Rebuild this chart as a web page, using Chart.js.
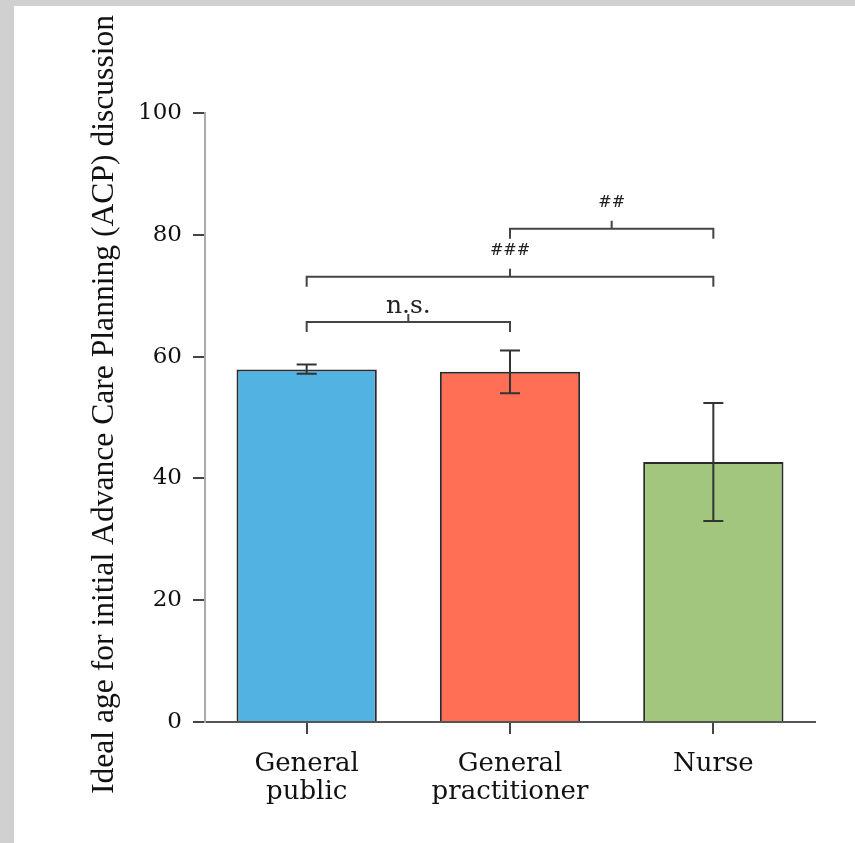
<!DOCTYPE html>
<html>
<head>
<meta charset="utf-8">
<script src="https://cdn.jsdelivr.net/npm/chart.js@4.4.1/dist/chart.umd.min.js"></script>
<style>
  html, body { margin: 0; padding: 0; background: #d1d0d0; }
  #wrap { position: absolute; left: 14px; top: 6px; width: 841px; height: 837px; background: #fff; }
</style>
</head>
<body>
<div id="wrap"><canvas id="chart"></canvas></div>
<script>
// Ideal age for initial ACP discussion, by respondent group
const categories = [["General", "public"], ["General", "practitioner"], "Nurse"];
const means = [57.9, 57.5, 42.7];
const errLow = [57.2, 54.0, 33.0];
const errHigh = [58.7, 61.0, 52.4];
const barColors = ["#52b2e2", "#ff6f56", "#a3c67e"];
const yTicks = [0, 20, 40, 60, 80, 100];

// Significance brackets (group index from -> to, height in axis units, label)
const compFrom = [0, 0, 1];
const compTo = [1, 2, 2];
const compY = [65.7, 73.1, 81.0];
const compLabels = ["n.s.", "###", "##"];

const yTitle = "Ideal age for initial Advance Care Planning (ACP) discussion";

const INK = "#333";
const SERIF = "'DejaVu Serif', serif";

// Helper to draw error bars on top of the bars
const errorBars = {
  id: "errorBars",
  afterDatasetsDraw(chart) {
    const {ctx, scales: {x, y}} = chart;
    ctx.save();
    ctx.strokeStyle = INK;
    ctx.lineWidth = 2;
    means.forEach((m, i) => {
      const px = x.getPixelForValue(i);
      const yLo = y.getPixelForValue(errLow[i]);
      const yHi = y.getPixelForValue(errHigh[i]);
      ctx.beginPath();
      ctx.moveTo(px, yLo); ctx.lineTo(px, yHi);
      ctx.moveTo(px - 10, yLo); ctx.lineTo(px + 10, yLo);
      ctx.moveTo(px - 10, yHi); ctx.lineTo(px + 10, yHi);
      ctx.stroke();
    });
    ctx.restore();
  }
};

// Helper to draw the comparison brackets with their labels
const brackets = {
  id: "brackets",
  afterDatasetsDraw(chart) {
    const {ctx, scales: {x, y}} = chart;
    ctx.save();
    ctx.strokeStyle = "#444";
    ctx.fillStyle = "#222";
    ctx.lineWidth = 2;
    compLabels.forEach((label, i) => {
      const x1 = x.getPixelForValue(compFrom[i]);
      const x2 = x.getPixelForValue(compTo[i]);
      const py = y.getPixelForValue(compY[i]);
      const xm = (x1 + x2) / 2;
      ctx.beginPath();
      ctx.moveTo(x1, py + 10); ctx.lineTo(x1, py);
      ctx.lineTo(x2, py); ctx.lineTo(x2, py + 10);
      ctx.moveTo(xm, py); ctx.lineTo(xm, py - 8);
      ctx.stroke();
      const isNs = label === "n.s.";
      ctx.font = (isNs ? 25 : 16) + "px " + SERIF;
      ctx.textAlign = "center";
      ctx.textBaseline = "alphabetic";
      ctx.fillText(label, xm, py - (isNs ? 9 : 22));
    });
    ctx.restore();
  }
};

// Y axis title drawn by hand so it is not squeezed to the axis height
const axisTitle = {
  id: "axisTitle",
  afterDraw(chart) {
    const {ctx, chartArea} = chart;
    ctx.save();
    ctx.translate(91, (chartArea.top + chartArea.bottom) / 2 - 13);
    ctx.rotate(-Math.PI / 2);
    ctx.font = "31.6px 'Liberation Serif', serif";
    ctx.fillStyle = "#111";
    ctx.textAlign = "center";
    ctx.textBaseline = "middle";
    ctx.fillText(yTitle, 0, 0);
    ctx.restore();
  }
};

new Chart(document.getElementById("chart"), {
  type: "bar",
  data: {
    labels: categories,
    datasets: [{
      data: means,
      backgroundColor: barColors,
      borderColor: "#2a2a2a",
      borderWidth: 2,
      barPercentage: 0.69,
      categoryPercentage: 1
    }]
  },
  options: {
    responsive: true,
    maintainAspectRatio: false,
    animation: false,
    layout: { padding: { top: 107, right: 40, left: 0, bottom: 0 } },
    plugins: { legend: { display: false }, tooltip: { enabled: false } },
    scales: {
      x: {
        grid: { offset: false, drawOnChartArea: false, tickLength: 12, color: "#444", lineWidth: 2 },
        border: { display: true, color: "#555", width: 2 },
        ticks: { color: "#111", padding: 17, font: { family: SERIF, size: 26, lineHeight: 1.05 } },
        afterFit(scale) { scale.height = 121; }
      },
      y: {
        min: 0,
        max: 100,
        afterBuildTicks(scale) { scale.ticks = yTicks.map(v => ({ value: v })); },
        grid: { drawOnChartArea: false, tickLength: 12, color: "#444", lineWidth: 2 },
        border: { display: true, color: "#aaa", width: 2 },
        ticks: { color: "#111", padding: 11, font: { family: SERIF, size: 23 } },
        afterFit(scale) { scale.width = 191; }
      }
    }
  },
  plugins: [errorBars, brackets, axisTitle]
});
</script>
</body>
</html>
